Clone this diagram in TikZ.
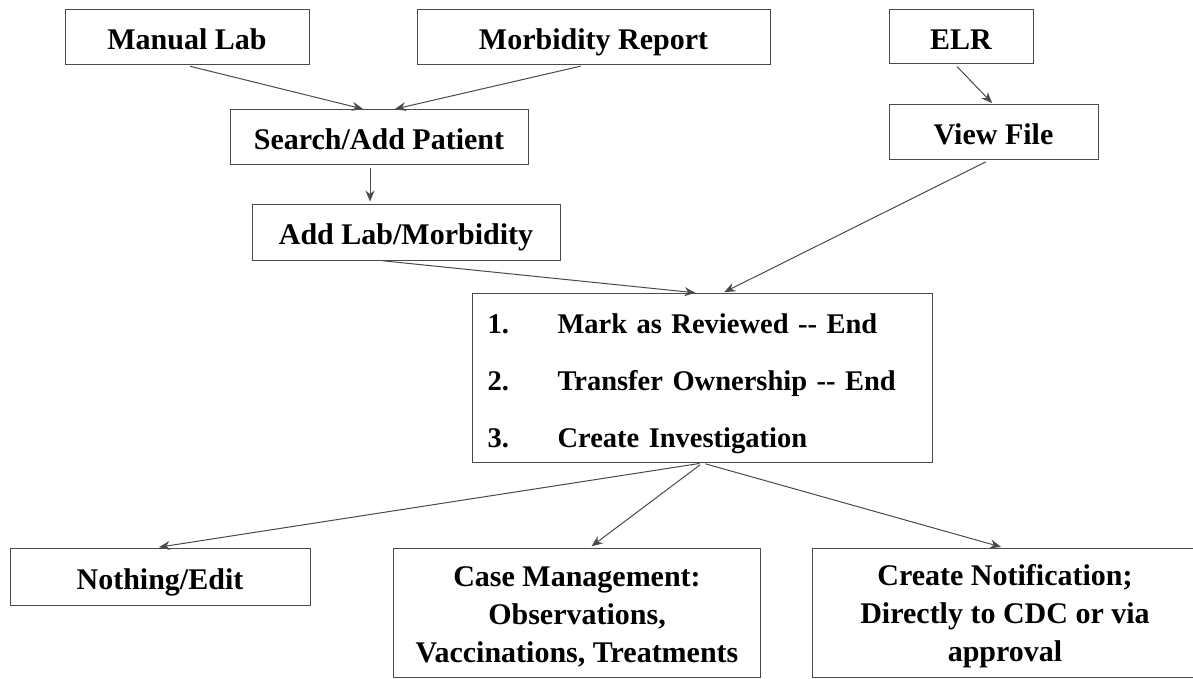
\documentclass[tikz,border=0pt]{standalone}
\usepackage{fontspec}
\setmainfont{Liberation Serif}
\usepackage{xcolor}
\definecolor{flowline}{HTML}{4A4A4A}
\usepackage{tikz}
\usetikzlibrary{arrows.meta,positioning,calc}

\begin{document}
\begin{tikzpicture}[x=1pt,y=-1pt,
  box/.style={draw=flowline,line width=1pt,inner sep=0pt,align=center,
    font=\fontsize{30}{38}\selectfont\bfseries},
  oneline/.style={box,text height=25pt,text depth=0pt},
  flow/.style={draw=flowline,line width=1pt,shorten <=3pt,shorten >=2pt,
    -{Stealth[length=11pt,width=9pt]}}]
\useasboundingbox (0,0) rectangle (1193,679);
% sources
\node[oneline,minimum width=244pt,minimum height=55pt] (manual) at (187,37.5) {Manual Lab};
\node[oneline,minimum width=353pt,minimum height=55pt] (morbrep) at (593.5,37.5) {Morbidity Report};
\node[oneline,minimum width=144pt,minimum height=54pt] (elr) at (961,37) {ELR};
% entry steps
\node[oneline,minimum width=298pt,minimum height=55pt] (search) at (379,137.5) {Search/Add Patient};
\node[oneline,minimum width=209pt,minimum height=55pt] (viewfile) at (993.5,132.5) {View File};
\node[oneline,minimum width=308pt,minimum height=56pt] (addlab) at (406,232) {Add Lab/Morbidity};
% review choices
\node[box,anchor=north west,minimum width=460pt,minimum height=169pt,
  text width=430pt,align=left,font=\fontsize{28.5}{57}\selectfont\bfseries] (review) at (472,293) {%
\rule{0pt}{31pt}\makebox[70pt][l]{1.}Mark as Reviewed -{}- End\\
\makebox[70pt][l]{2.}Transfer Ownership -{}- End\\
\makebox[70pt][l]{3.}Create Investigation};
% outcomes
\node[oneline,minimum width=300pt,minimum height=57pt] (nothing) at (160,576.5) {Nothing/Edit};
\node[box,minimum width=367pt,minimum height=129pt] (casemgmt) at (577,612.5)
  {\rule{0pt}{29pt}Case Management:\\ Observations,\\ Vaccinations, Treatments};
\node[box,minimum width=386pt,minimum height=129pt] (notif) at (1005,612.5)
  {\rule{0pt}{29pt}Create Notification;\\ Directly to CDC or via\\ approval};

\draw[flow] (manual.south) -- ([xshift=-14pt]search.north);
\draw[flow] ([xshift=-10pt]morbrep.south) -- ([xshift=14pt]search.north);
\draw[flow] ([xshift=-9pt]search.south) -- ([xshift=-9pt]search.south |- addlab.north);
\draw[flow] ([xshift=-6pt]elr.south) -- (viewfile.north);
\draw[flow] ([xshift=-26pt]addlab.south) -- ([xshift=-5pt]review.north);
\draw[flow] ([xshift=-5pt]viewfile.south) -- ([xshift=20pt]review.north);
\draw[flow] (review.south) -- ([xshift=-3pt]nothing.north);
\draw[flow] (review.south) -- ([xshift=13pt]casemgmt.north);
\draw[flow] (review.south) -- ([xshift=-2pt]notif.north);
\end{tikzpicture}
\end{document}
